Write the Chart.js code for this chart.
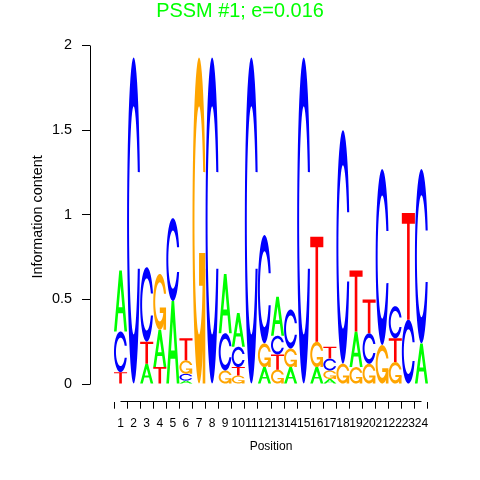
<!DOCTYPE html>
<html><head><meta charset="utf-8">
<script src="https://cdn.jsdelivr.net/npm/chart.js@4/dist/chart.umd.min.js"></script>
<style>html,body{margin:0;padding:0;background:#fff}#wrap{width:480px;height:480px}</style>
</head><body><div id="wrap"><canvas id="c" width="480" height="480"></canvas></div>
<script>
// ---- data (information content per letter, per position) ----
const positions = [1,2,3,4,5,6,7,8,9,10,11,12,13,14,15,16,17,18,19,20,21,22,23,24];
const A = [0.36,0,0.12,0.22,0.49,0.02,0,0,0.35,0.20,0,0.10,0.23,0.10,0,0.10,0.03,0,0.21,0,0,0,0,0.24];
const C = [0.24,1.93,0.44,0,0.49,0.04,0,1.93,0.22,0.12,1.93,0.64,0.11,0.23,1.93,0,0.07,1.38,0,0.18,1.04,0.19,0.38,1.03];
const G = [0,0,0,0.33,0,0.08,1.93,0,0.08,0.05,0,0.14,0.085,0.11,0,0.15,0.05,0.12,0.10,0.12,0.23,0.13,0,0];
const T = [0.07,0,0.13,0.10,0,0.13,0,0,0,0.05,0,0,0.09,0,0,0.62,0.07,0,0.36,0.20,0,0.14,0.63,0];
const yTicks = [0,0.5,1,1.5,2];
const titleText = 'PSSM #1; e=0.016';
const xTitle = 'Position';
const yTitle = 'Information content';

const letterColors = {A:'#00FF00', C:'#0000FF', G:'#FFA500', T:'#FF0000'};
const FONT = 'Liberation Sans, Arial, Helvetica, sans-serif';

// build stacked levels: smallest letter at the bottom
const series = {A, C, G, T};
const letterNames = ['A','C','G','T'];
const levels = [0,1,2,3].map(() => ({data: [], letters: []}));
positions.forEach((p, i) => {
  const col = letterNames.map(L => ({L, h: series[L][i]})).sort((a, b) => a.h - b.h);
  col.forEach((e, k) => { levels[k].data.push({x: p, y: e.h}); levels[k].letters.push(e.L); });
});

// glyph shapes in unit square (x right, y up)
function cBand(){
  const pts = [];
  const a0 = Math.asin(0.148/0.5), b0 = 0.437, n = 48;
  for (let i = 0; i <= n; i++){ const t = a0 + (2*Math.PI - 2*a0)*i/n; pts.push([0.5+0.5*Math.cos(t), 0.5+0.5*Math.sin(t)]); }
  for (let i = 0; i <= n; i++){ const t = (2*Math.PI - b0) - (2*Math.PI - 2*b0)*i/n; pts.push([0.5+0.35*Math.cos(t), 0.5+0.35*Math.sin(t)]); }
  return pts;
}
const SHAPES = {
  A: [[[0,0],[0.4,1],[0.6,1],[1,0],[0.8,0],[0.68,0.3],[0.32,0.3],[0.2,0]], [[0.36,0.4],[0.5,0.75],[0.64,0.4]]],
  T: [[[0,1],[1,1],[1,0.9],[0.6,0.9],[0.6,0],[0.4,0],[0.4,0.9],[0,0.9]]],
  C: [cBand()],
  G: [cBand(), [[0.978,0.4],[0.5,0.4],[0.5,0.3],[0.778,0.3],[0.778,0],[0.978,0]]]
};
function drawLetter(ctx, L, left, top, w, h){
  const bottom = top + h;
  ctx.fillStyle = letterColors[L];
  const polys = SHAPES[L];
  if (L === 'A'){
    ctx.beginPath();
    polys.forEach(poly => { poly.forEach((p, i) => { const X = left + p[0]*w, Y = bottom - p[1]*h; i ? ctx.lineTo(X, Y) : ctx.moveTo(X, Y); }); ctx.closePath(); });
    ctx.fill('evenodd');
  } else {
    polys.forEach(poly => {
      ctx.beginPath();
      poly.forEach((p, i) => { const X = left + p[0]*w, Y = bottom - p[1]*h; i ? ctx.lineTo(X, Y) : ctx.moveTo(X, Y); });
      ctx.closePath(); ctx.fill();
    });
  }
}

const logoPlugin = {
  id: 'logo',
  afterDatasetsDraw(chart){
    const ctx = chart.ctx;
    ctx.save();
    chart.data.datasets.forEach((ds, di) => {
      const meta = chart.getDatasetMeta(di);
      meta.data.forEach((el, j) => {
        const {x, y, base, width} = el.getProps(['x','y','base','width'], true);
        const h = base - y;
        if (h <= 0.05) return;
        drawLetter(ctx, ds.letters[j], x - width/2, y, width, h);
      });
    });
    ctx.restore();
  }
};

function alignPx(v){ return Math.round(v - 0.5) + 0.5; }
const axisPlugin = {
  id: 'rAxes',
  afterDraw(chart){
    const ctx = chart.ctx, xs = chart.scales.x, ys = chart.scales.y, ca = chart.chartArea;
    ctx.save();
    ctx.strokeStyle = '#000'; ctx.lineWidth = 1;
    ctx.beginPath();
    const yb = alignPx(ca.bottom);
    ctx.moveTo(alignPx(xs.getPixelForValue(positions[0])), yb);
    ctx.lineTo(alignPx(xs.getPixelForValue(positions[positions.length-1])), yb);
    const xl = alignPx(ca.left);
    ctx.moveTo(xl, alignPx(ys.getPixelForValue(yTicks[0])));
    ctx.lineTo(xl, alignPx(ys.getPixelForValue(yTicks[yTicks.length-1])));
    ctx.stroke();
    ctx.restore();
  }
};

new Chart(document.getElementById('c'), {
  type: 'bar',
  data: {
    datasets: levels.map((lv, k) => ({
      label: 'level' + k, data: lv.data, letters: lv.letters,
      backgroundColor: 'rgba(0,0,0,0)', borderWidth: 0,
      barPercentage: 1, categoryPercentage: 1
    }))
  },
  options: {
    responsive: false, animation: false, events: [],
    layout: {padding: {left: 0, right: 0, top: 0, bottom: 0}},
    plugins: {
      legend: {display: false}, tooltip: {enabled: false},
      title: {display: true, text: titleText, color: '#00FF00',
        font: {family: FONT, size: 19.9, weight: 'normal', lineHeight: 0.92},
        padding: {top: 2.3, bottom: 11.4}}
    },
    scales: {
      x: {
        type: 'linear', stacked: true, min: -0.758, max: 25.758,
        afterBuildTicks(s){ s.ticks = positions.map(v => ({value: v})); },
        afterFit(s){ s.height = 78.3; },
        ticks: {autoSkip: false, maxRotation: 0, minRotation: 0, color: '#000',
          font: {family: FONT, size: 12}, padding: 8, callback: v => String(v)},
        grid: {display: true, drawOnChartArea: false, drawTicks: true, tickLength: 7, color: '#000', lineWidth: 1},
        border: {display: false},
        title: {display: true, text: xTitle, color: '#000', font: {family: FONT, size: 12, lineHeight: 1.2}, padding: {top: 0, bottom: 26.5}}
      },
      y: {
        type: 'linear', stacked: true, min: -0.1045, max: 2.0797,
        afterBuildTicks(s){ s.ticks = yTicks.map(v => ({value: v})); },
        afterFit(s){ s.width = 90; },
        ticks: {color: '#000', font: {family: FONT, size: 14.4}, padding: 10, callback: v => String(v)},
        grid: {display: true, drawOnChartArea: false, drawTicks: true, tickLength: 8, color: '#000', lineWidth: 1},
        border: {display: false},
        title: {display: true, text: yTitle, color: '#000', font: {family: FONT, size: 14.4, lineHeight: 1.2}, padding: {top: 29.4, bottom: 0}}
      },
      yRight: {
        type: 'linear', position: 'right', display: true,
        afterFit(s){ s.width = 28; },
        ticks: {display: false}, grid: {display: false}, border: {display: false}, title: {display: false}
      }
    }
  },
  plugins: [logoPlugin, axisPlugin]
});
</script>
</body></html>
